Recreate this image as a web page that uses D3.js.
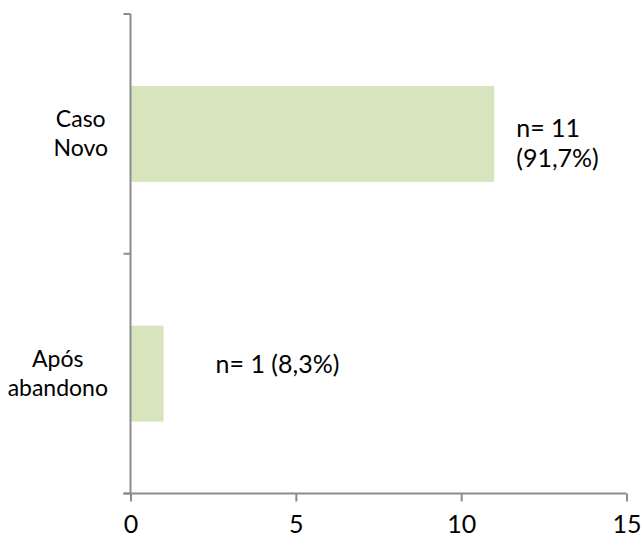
<!DOCTYPE html>
<html><head><meta charset="utf-8">
<script src="https://cdn.jsdelivr.net/npm/d3@7"></script>
<style>
html,body{margin:0;padding:0;background:#fff;}
svg{display:block;}
text{font-family:Lato, "Open Sans", sans-serif;fill:#000;}
</style></head>
<body>
<svg id="chart" width="641" height="539"></svg>
<script>
// ---- data ----
const categories = ["Caso Novo", "Após abandono"];
const categoryLines = [["Caso", "Novo"], ["Após", "abandono"]];
const values = [11, 1];
const valueLabels = [["n= 11", "(91,7%)"], ["n= 1 (8,3%)"]];
const xTickValues = [0, 5, 10, 15];

// ---- layout ----
const svg = d3.select("#chart");
const mLeft = 130.5, mRight = 626.5, mTop = 14, mBottom = 493.5;
const axisColor = "#8c8c8c";
const barColor = "#d7e4bd";
const labelDx = [22, 52];
const labelDy = [3.5, -1];

const x = d3.scaleLinear().domain([0, 15]).range([mLeft, mRight]);
const y = d3.scaleBand().domain(categories).range([mTop, mBottom])
  .paddingInner(0.6).paddingOuter(0.3);
const step = y.step();

// bars
svg.append("g").selectAll("rect").data(categories).join("rect")
  .attr("x", x(0))
  .attr("y", d => y(d))
  .attr("width", (d, i) => x(values[i]) - x(0))
  .attr("height", y.bandwidth())
  .attr("fill", barColor);

// x axis
const xAxis = d3.axisBottom(x).tickValues(xTickValues).tickSize(8).tickPadding(14)
  .tickFormat(d3.format("d"));
const gx = svg.append("g").attr("transform", `translate(0,${mBottom})`).call(xAxis);
gx.select(".domain").attr("stroke", axisColor).attr("stroke-width", 2)
  .attr("d", `M${mLeft - 7},0H${mRight}`);
gx.selectAll(".tick line").attr("stroke", axisColor).attr("stroke-width", 2);
gx.selectAll(".tick text").attr("font-size", 25).attr("font-family", "Lato").attr("fill", "#000");

// y axis line and boundary ticks
svg.append("line").attr("x1", mLeft).attr("x2", mLeft).attr("y1", mTop).attr("y2", mBottom)
  .attr("stroke", axisColor).attr("stroke-width", 2);
const boundaries = categories.map(c => y(c) - step * y.paddingOuter()).concat([mBottom]);
svg.append("g").selectAll("line").data(boundaries).join("line")
  .attr("x1", mLeft - 7).attr("x2", mLeft)
  .attr("y1", d => d).attr("y2", d => d)
  .attr("stroke", axisColor).attr("stroke-width", 2);

// category labels (block right edge at ~108, lines centered)
const lineH = 29;
categoryLines.forEach((lines, i) => {
  const cy = y(categories[i]) + y.bandwidth() / 2;
  const g = svg.append("g");
  const t = g.selectAll("text").data(lines).join("text")
    .attr("font-size", 23)
    .attr("text-anchor", "middle")
    .attr("y", (d, j) => cy - (lines.length - 1) * lineH / 2 + j * lineH + 8)
    .text(d => d);
  let maxW = 0;
  t.each(function () { maxW = Math.max(maxW, this.getComputedTextLength()); });
  t.attr("x", 108 - maxW / 2);
});

// value labels
valueLabels.forEach((lines, i) => {
  const cy = y(categories[i]) + y.bandwidth() / 2;
  svg.append("g").selectAll("text").data(lines).join("text")
    .attr("font-size", 25)
    .attr("x", x(values[i]) + labelDx[i])
    .attr("y", (d, j) => cy + labelDy[i] + j * 30)
    .text(d => d);
});
</script>
</body></html>
